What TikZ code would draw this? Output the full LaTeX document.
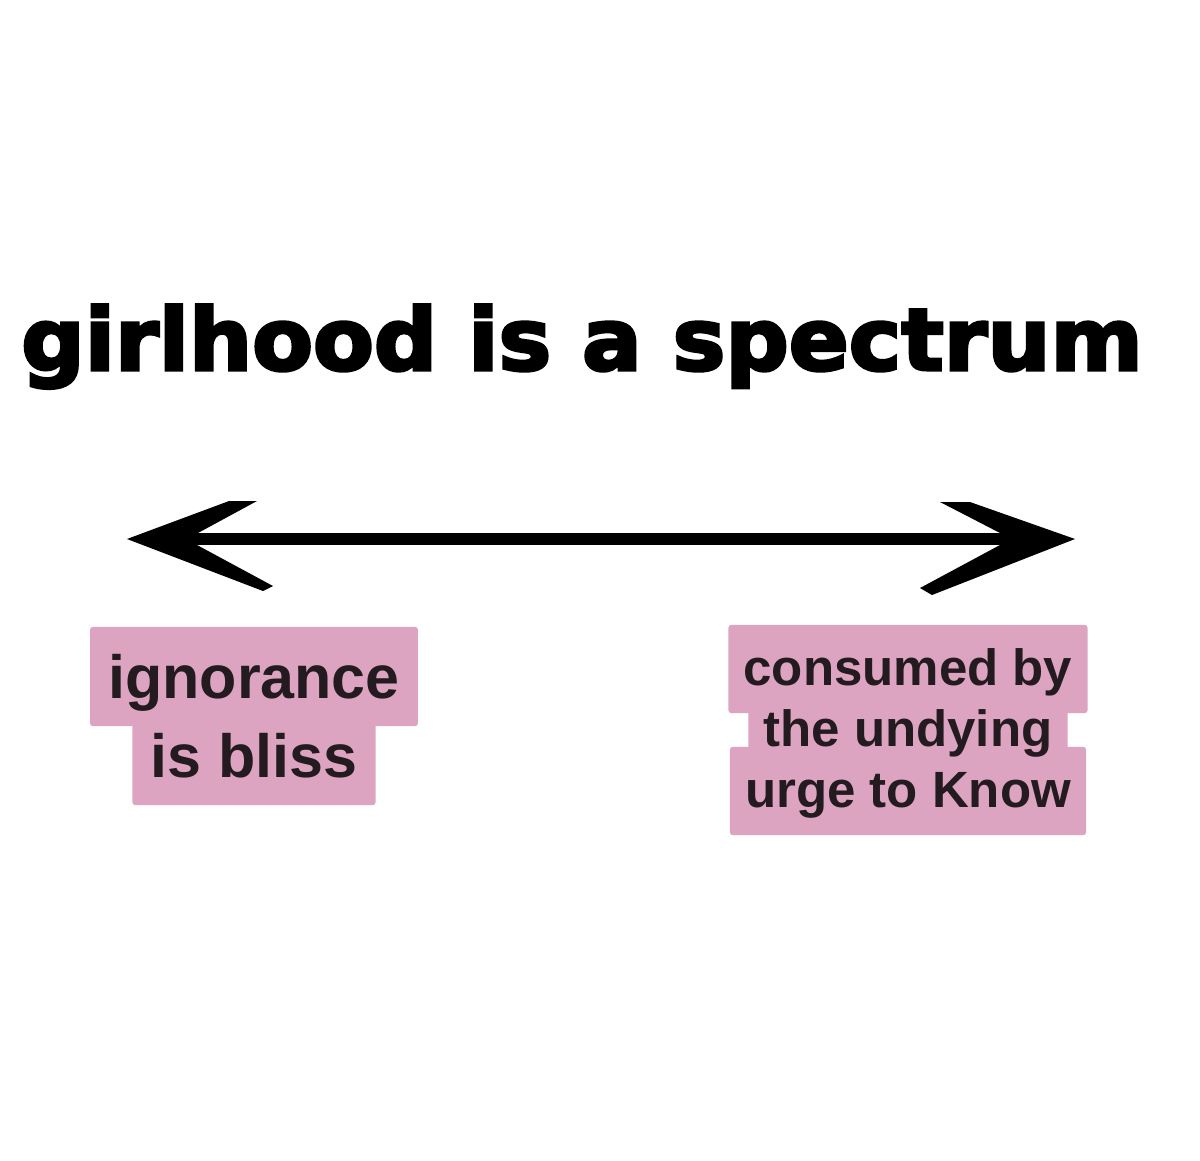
\documentclass[tikz,border=0pt]{standalone}
\usepackage{fontspec}
\usepackage{graphicx}
\setmainfont{Liberation Sans}
\newfontfamily\titlefont{DejaVu Sans}[BoldFeatures = {FakeBold = 3.5}]
\usetikzlibrary{backgrounds}
\definecolor{pinkhl}{RGB}{221,164,193}
\definecolor{inkdark}{RGB}{35,27,31}
\begin{document}
\begin{tikzpicture}[x = 1pt, y = -1pt,
        pinkbox/.style n args = {3}{text = inkdark, anchor = base,
            font = \fontsize{#1}{#1}\selectfont\bfseries, inner xsep = 18pt, inner ysep = 0pt,
            text height = #2, text depth = #3}]
        \useasboundingbox (0, 0) rectangle (1200, 1160);
        % title
        \node[anchor = base, inner sep = 0pt] (title) at (582, 370)
            {\titlefont\bfseries\fontsize{86}{90}\selectfont\scalebox{1.03}[1]{girlhood is a spectrum}};
        % spectrum arrow
        \coordinate (lend) at (127, 539);
        \coordinate (rend) at (1075, 539);
        \draw[line width = 12pt, shorten <= 30pt, shorten >= 30pt] (lend) -- (rend);
        \fill[shift = {(lend)}] (0, 0) -- (102, -38) -- (130, -38) -- (71, -6)
            -- (70, 6) -- (146, 47) -- (136, 52) -- cycle;
        \fill[shift = {(rend)}] (0, 0) -- (-105, -37) -- (-135, -37) -- (-75, -6)
            -- (-75, 6) -- (-155, 49) -- (-143, 56) -- cycle;
        % the two ends
        \foreach \txt [count = \i] in {ignorance, is bliss}{
            \node[pinkbox = {61}{71pt}{28pt}] (ign\i) at (254, {698 + 79 * (\i - 1)}) {\txt};
        }
        \foreach \txt [count = \i] in {consumed by, the undying, urge to Know}{
            \node[pinkbox = {51}{60pt}{28pt}, inner xsep = 15pt] (con\i) at (908, {685 + 61 * (\i - 1)}) {\txt};
        }
        % highlights under the text
        \begin{scope}[on background layer]
            \fill[white] (0, 0) rectangle (1200, 1160);
            \foreach \n in {ign1, ign2, con1, con2, con3}
                \fill[pinkhl, rounded corners = 3pt] (\n.south west) rectangle (\n.north east);
        \end{scope}
    \end{tikzpicture}
\end{document}
